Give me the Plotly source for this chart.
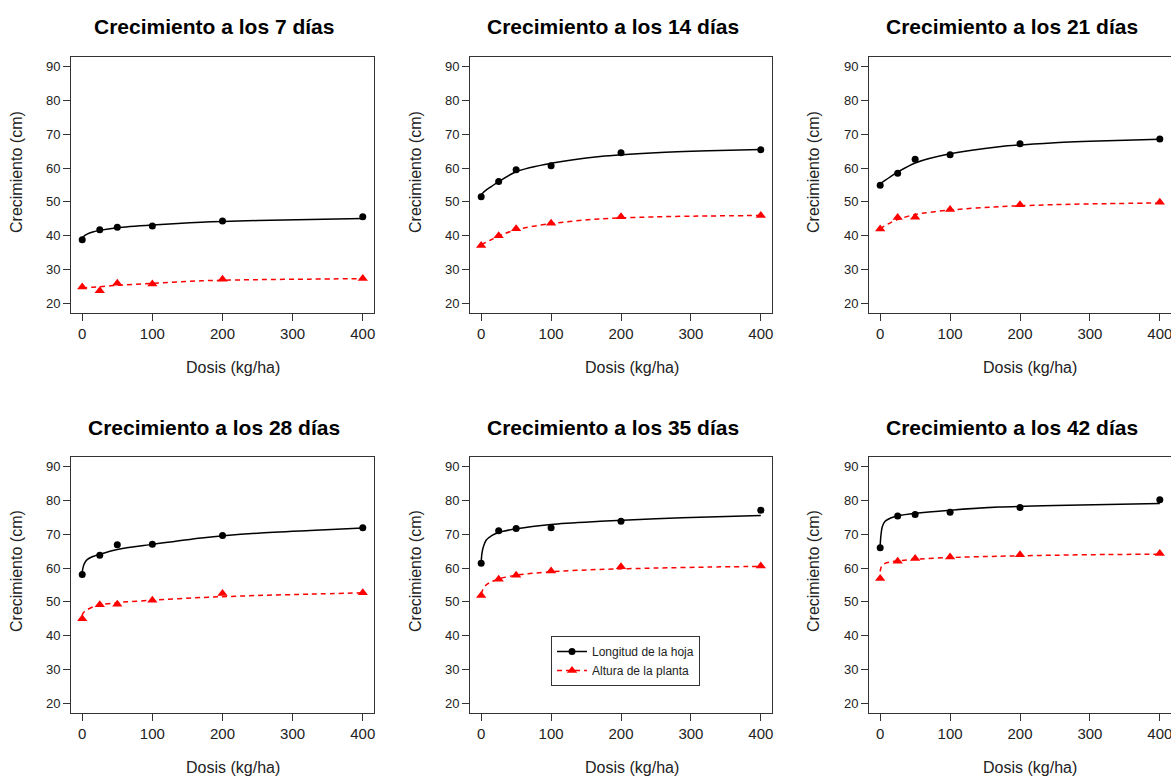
import plotly.graph_objects as go

# ---------------- data ----------------
doses = [0, 25, 50, 100, 200, 400]
days = [7, 14, 21, 28, 35, 42]

hoja_7 = [38.8, 41.8, 42.5, 42.9, 44.4, 45.6]
hoja_14 = [51.5, 56.0, 59.5, 60.7, 64.5, 65.4]
hoja_21 = [54.9, 58.5, 62.6, 63.9, 67.2, 68.6]
hoja_28 = [58.1, 63.8, 66.9, 67.0, 69.6, 71.9]
hoja_35 = [61.4, 71.0, 71.7, 71.9, 73.8, 77.1]
hoja_42 = [66.0, 75.4, 75.8, 76.5, 77.9, 80.2]

altura_7 = [24.9, 23.8, 26.0, 25.8, 27.2, 27.4]
altura_14 = [37.1, 40.0, 42.1, 43.7, 45.6, 46.0]
altura_21 = [42.0, 45.4, 45.5, 47.8, 49.2, 49.9]
altura_28 = [45.0, 49.2, 49.3, 50.5, 52.5, 52.7]
altura_35 = [51.9, 56.7, 57.9, 59.1, 60.4, 60.6]
altura_42 = [56.9, 62.0, 62.8, 63.3, 63.9, 64.3]

# fitted curves
fit_x = [0, 1, 3, 7, 15, 25, 50, 100, 170, 250, 325, 400]

hoja_fit_7 = [39.3, 39.6, 40.0, 40.5, 41.1, 41.6, 42.4, 43.2, 44.0, 44.5, 44.8, 45.1]
hoja_fit_14 = [52.0, 52.3, 52.8, 53.5, 54.6, 56.0, 58.9, 61.4, 63.4, 64.5, 65.1, 65.5]
hoja_fit_21 = [55.2, 55.4, 55.8, 56.4, 57.5, 58.8, 61.5, 64.2, 66.3, 67.5, 68.1, 68.5]
hoja_fit_28 = [58.9, 60.0, 61.3, 62.5, 63.4, 64.1, 65.5, 67.0, 68.9, 70.3, 71.1, 71.8]
hoja_fit_35 = [61.8, 64.2, 66.2, 68.2, 69.6, 70.5, 71.6, 72.9, 73.8, 74.6, 75.1, 75.5]
hoja_fit_42 = [66.7, 69.5, 72.2, 73.8, 74.8, 75.4, 76.2, 77.1, 78.0, 78.5, 78.8, 79.1]

altura_fit_7 = [24.5, 24.5, 24.6, 24.7, 24.8, 24.95, 25.4, 25.95, 26.7, 27.05, 27.2, 27.35]
altura_fit_14 = [37.4, 37.5, 37.7, 38.1, 38.9, 39.9, 41.8, 43.6, 45.0, 45.6, 45.85, 46.0]
altura_fit_21 = [42.0, 42.2, 42.5, 43.0, 43.9, 44.8, 46.3, 47.6, 48.6, 49.2, 49.5, 49.7]
altura_fit_28 = [46.0, 46.6, 47.1, 47.7, 48.5, 49.1, 49.8, 50.5, 51.3, 51.9, 52.3, 52.7]
altura_fit_35 = [52.3, 52.9, 53.9, 55.0, 56.0, 56.8, 57.9, 58.9, 59.6, 60.0, 60.3, 60.5]
altura_fit_42 = [59.0, 60.0, 60.8, 61.4, 61.8, 62.1, 62.6, 63.1, 63.5, 63.8, 64.0, 64.1]

x_ticks = [0, 100, 200, 300, 400]
y_ticks = [20, 30, 40, 50, 60, 70, 80, 90]
series_names = ["Longitud de la hoja", "Altura de la planta"]

hoja = [hoja_7, hoja_14, hoja_21, hoja_28, hoja_35, hoja_42]
altura = [altura_7, altura_14, altura_21, altura_28, altura_35, altura_42]
hoja_fit = [hoja_fit_7, hoja_fit_14, hoja_fit_21, hoja_fit_28, hoja_fit_35, hoja_fit_42]
altura_fit = [altura_fit_7, altura_fit_14, altura_fit_21, altura_fit_28, altura_fit_35, altura_fit_42]

# ---------------- layout geometry (pixels) ----------------
# the figure is a little wider than the window so the last "400" labels
# are kept (and get clipped by the window edge, as in the reference)
W, H = 1190, 776
box_x = [(71, 374), (470, 772), (869, 1171)]
box_y = [(57, 313), (457, 713)]
title_x = [213.5, 613.5, 1011.5]
xtitle_x = [232.5, 631.5, 1030]
ytitle_x = [16, 415, 813]

FONT = "Liberation Sans, Arial, sans-serif"
AXCOL = "#333333"
TXTCOL = "#222222"
RED = "#FF0000"

fig = go.Figure()
layout = dict(
    width=W, height=H, margin=dict(l=0, r=0, t=0, b=0),
    plot_bgcolor="white", paper_bgcolor="white",
    font=dict(family=FONT, color=TXTCOL, size=14),
    showlegend=True,
    annotations=[],
)

for i, d in enumerate(days):
    r, c = divmod(i, 3)
    n = i + 1
    xa = "x" if n == 1 else f"x{n}"
    ya = "y" if n == 1 else f"y{n}"
    xl, xr = box_x[c]
    yt, yb = box_y[r]
    layout[f"xaxis{'' if n == 1 else n}"] = dict(
        domain=[xl / W, xr / W], anchor=ya, range=[-16, 416],
        tickvals=x_ticks, ticks="outside", ticklen=7, tickwidth=1, tickcolor=AXCOL,
        showline=True, linecolor=AXCOL, linewidth=1, mirror=True,
        showgrid=False, zeroline=False, tickfont=dict(size=15, color=TXTCOL),
    )
    layout[f"yaxis{'' if n == 1 else n}"] = dict(
        domain=[1 - yb / H, 1 - yt / H], anchor=xa, range=[17.2, 92.8],
        tickvals=y_ticks, ticks="outside", ticklen=7, tickwidth=1, tickcolor=AXCOL,
        showline=True, linecolor=AXCOL, linewidth=1, mirror=True,
        showgrid=False, zeroline=False, tickfont=dict(size=13, color=TXTCOL),
    )
    # fitted curves
    fig.add_trace(go.Scatter(x=fit_x, y=hoja_fit[i], mode="lines", xaxis=xa, yaxis=ya,
                             line=dict(color="black", width=1.5, shape="spline", smoothing=0.8),
                             showlegend=False, hoverinfo="skip"))
    fig.add_trace(go.Scatter(x=fit_x, y=altura_fit[i], mode="lines", xaxis=xa, yaxis=ya,
                             line=dict(color=RED, width=1.5, dash="5px,4px", shape="spline", smoothing=0.8),
                             showlegend=False, hoverinfo="skip"))
    # observed points
    fig.add_trace(go.Scatter(x=doses, y=hoja[i], mode="markers", xaxis=xa, yaxis=ya,
                             marker=dict(symbol="circle", size=7, color="black"),
                             name=series_names[0], showlegend=False))
    fig.add_trace(go.Scatter(x=doses, y=altura[i], mode="markers", xaxis=xa, yaxis=ya,
                             marker=dict(symbol="triangle-up", size=9, color=RED),
                             name=series_names[1], showlegend=False))

    layout["annotations"].append(dict(
        text=f"<b>Crecimiento a los {d} días</b>", x=title_x[c] / W, y=1 - (27 + 400 * r) / H,
        xref="paper", yref="paper", xanchor="center", yanchor="middle", showarrow=False,
        font=dict(size=21, color="black", family=FONT)))
    layout["annotations"].append(dict(
        text="Dosis (kg/ha)", x=xtitle_x[c] / W, y=1 - (367 + 400 * r) / H,
        xref="paper", yref="paper", xanchor="center", yanchor="middle", showarrow=False,
        font=dict(size=16, color=TXTCOL, family=FONT)))
    layout["annotations"].append(dict(
        text="Crecimiento (cm)", x=ytitle_x[c] / W, y=1 - (172 + 399 * r) / H, textangle=-90,
        xref="paper", yref="paper", xanchor="center", yanchor="middle", showarrow=False,
        font=dict(size=16, color=TXTCOL, family=FONT)))

# legend entries (shown in the 35-day panel)
fig.add_trace(go.Scatter(x=[None], y=[None], mode="lines+markers", xaxis="x5", yaxis="y5",
                         name=series_names[0], line=dict(color="black", width=1.5),
                         marker=dict(symbol="circle", size=7, color="black")))
fig.add_trace(go.Scatter(x=[None], y=[None], mode="lines+markers", xaxis="x5", yaxis="y5",
                         name=series_names[1], line=dict(color=RED, width=1.5, dash="5px,4px"),
                         marker=dict(symbol="triangle-up", size=9, color=RED)))

layout["legend"] = dict(x=551 / W, y=1 - 636 / H, xanchor="left", yanchor="top",
                        bgcolor="white", bordercolor=AXCOL, borderwidth=1,
                        font=dict(size=12, color=TXTCOL, family=FONT),
                        tracegroupgap=0, itemwidth=30)
fig.update_layout(**layout)
fig.write_html("out.html", config={"displayModeBar": False},
               post_script="document.body.style.margin='0';document.body.style.padding='0';"
                           "document.body.style.overflow='hidden';")
